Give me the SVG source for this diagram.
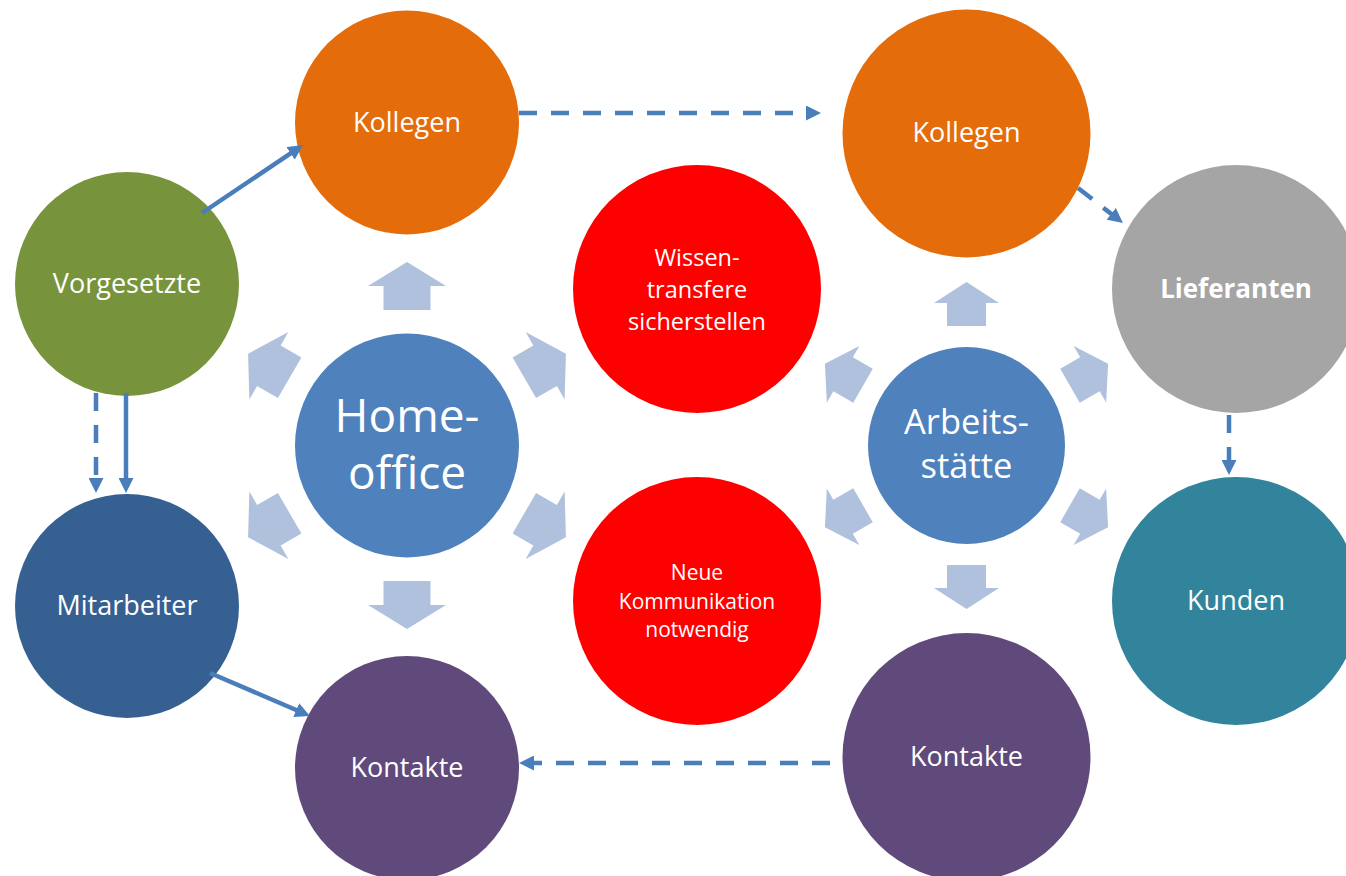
<svg xmlns="http://www.w3.org/2000/svg" width="1346" height="876" viewBox="0 0 1346 876">
<defs>
<style>
.t{font-family:"Open Sans","Noto Sans","Liberation Sans",sans-serif;fill:#fff;text-anchor:middle}
.con{fill:none;stroke:#4A7EBB;stroke-width:4.5;marker-end:url(#ah)}
.dash{stroke-dasharray:18 14}
.ba{fill:#B0C1DD}
</style>
<marker id="ah" markerUnits="userSpaceOnUse" viewBox="0 0 15 15" markerWidth="15" markerHeight="15" refX="5" refY="7.5" orient="auto">
<path d="M0,0 L15,7.5 L0,15 z" fill="#4A7EBB"/>
</marker>
<polygon id="bigA" points="-23.5,-135.5 -23.5,-159.5 -39,-159.5 0,-183.5 39,-159.5 23.5,-159.5 23.5,-135.5"/>
<polygon id="smallA" points="-19.5,-119.5 -19.5,-142.5 -32.5,-142.5 0,-163.5 32.5,-142.5 19.5,-142.5 19.5,-119.5"/>
</defs>
<rect width="1346" height="876" fill="#fff"/>

<g id="homeoffice-arrows" class="ba" transform="translate(407,445.5)">
<use href="#bigA"/>
<use href="#bigA" transform="rotate(60)"/>
<use href="#bigA" transform="rotate(120)"/>
<use href="#bigA" transform="rotate(180)"/>
<use href="#bigA" transform="rotate(240)"/>
<use href="#bigA" transform="rotate(300)"/>
</g>
<g id="arbeitsstaette-arrows" class="ba" transform="translate(966.5,445.5)">
<use href="#smallA"/>
<use href="#smallA" transform="rotate(60)"/>
<use href="#smallA" transform="rotate(120)"/>
<use href="#smallA" transform="rotate(180)"/>
<use href="#smallA" transform="rotate(240)"/>
<use href="#smallA" transform="rotate(300)"/>
</g>

<g id="homeoffice">
<circle cx="407" cy="445.5" r="112" fill="#4F81BD"/>
<text class="t" x="407" y="432" font-size="46">Home-</text>
<text class="t" x="407" y="489" font-size="46">office</text>
</g>
<g id="arbeitsstaette">
<circle cx="966.5" cy="445.5" r="98.5" fill="#4F81BD"/>
<text class="t" x="966.5" y="434" font-size="34.5">Arbeits-</text>
<text class="t" x="966.5" y="478" font-size="34.5">stätte</text>
</g>
<g id="kollegen-left">
<circle cx="407" cy="122.5" r="112" fill="#E46C0A"/>
<text class="t" x="407" y="132" font-size="27">Kollegen</text>
</g>
<g id="vorgesetzte">
<circle cx="127" cy="284" r="112" fill="#77933C"/>
<text class="t" x="127" y="293" font-size="27">Vorgesetzte</text>
</g>
<g id="mitarbeiter">
<circle cx="127" cy="606" r="112" fill="#376092"/>
<text class="t" x="127" y="615" font-size="27">Mitarbeiter</text>
</g>
<g id="kontakte-left">
<circle cx="407" cy="768" r="112" fill="#604A7B"/>
<text class="t" x="407" y="777" font-size="27">Kontakte</text>
</g>
<g id="wissen">
<circle cx="697" cy="289" r="124" fill="#FF0000"/>
<text class="t" x="697" y="266" font-size="23.5">Wissen-</text>
<text class="t" x="697" y="298" font-size="23.5">transfere</text>
<text class="t" x="697" y="330" font-size="23.5">sicherstellen</text>
</g>
<g id="neue-kommunikation">
<circle cx="697" cy="601" r="124" fill="#FF0000"/>
<text class="t" x="697" y="580" font-size="21">Neue</text>
<text class="t" x="697" y="608.5" font-size="21">Kommunikation</text>
<text class="t" x="697" y="637" font-size="21">notwendig</text>
</g>
<g id="kollegen-right">
<circle cx="966.5" cy="133.5" r="124" fill="#E46C0A"/>
<text class="t" x="966.5" y="142" font-size="27">Kollegen</text>
</g>
<g id="lieferanten">
<circle cx="1236" cy="289" r="124" fill="#A5A5A5"/>
<text class="t" x="1236" y="298" font-size="26" font-weight="bold">Lieferanten</text>
</g>
<g id="kunden">
<circle cx="1236" cy="601" r="124" fill="#31849B"/>
<text class="t" x="1236" y="610" font-size="27">Kunden</text>
</g>
<g id="kontakte-right">
<circle cx="966.5" cy="757" r="124" fill="#604A7B"/>
<text class="t" x="966.5" y="766" font-size="27">Kontakte</text>
</g>

<g id="connectors">
<line class="con" x1="202" y1="213" x2="294.7" y2="150.6"/>
<line class="con dash" x1="96" y1="393" x2="96" y2="483"/>
<line class="con" x1="126" y1="393" x2="126" y2="483"/>
<line class="con" x1="210" y1="673" x2="300.8" y2="712"/>
<line class="con dash" x1="519" y1="113" x2="811" y2="113"/>
<line class="con dash" x1="1078" y1="188" x2="1115.1" y2="216.9"/>
<line class="con dash" x1="1229" y1="415" x2="1229" y2="465"/>
<line class="con dash" x1="830" y1="763" x2="529" y2="763"/>
</g>
</svg>
